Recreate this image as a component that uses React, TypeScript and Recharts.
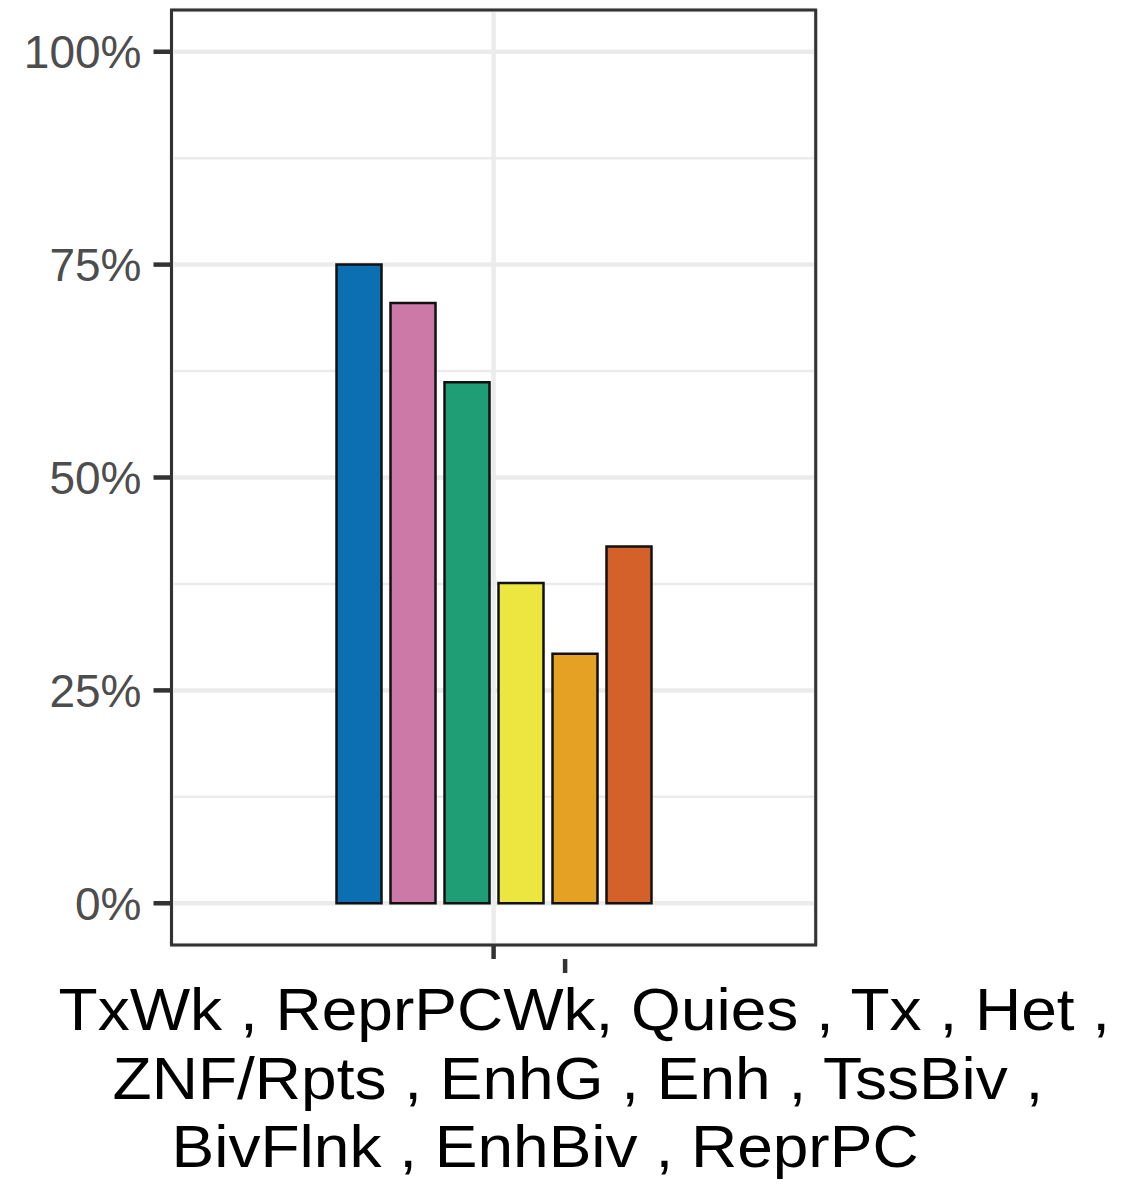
import React from 'react';
import { BarChart, Bar, XAxis, YAxis, CartesianGrid, ReferenceArea } from 'recharts';

const category = 'TxWk , ReprPCWk, Quies , Tx , Het , ZNF/Rpts , EnhG , Enh , TssBiv , BivFlnk , EnhBiv , ReprPC';
const xLabelLines = [
  'TxWk , ReprPCWk, Quies , Tx , Het ,',
  'ZNF/Rpts , EnhG , Enh , TssBiv ,',
  'BivFlnk , EnhBiv , ReprPC',
];
const seriesKeys = ['g1', 'g2', 'g3', 'g4', 'g5', 'g6'];
const seriesValues = [0.75, 0.705, 0.612, 0.376, 0.293, 0.419];
const seriesColors = ['#0B6FB1', '#CC79A7', '#1F9E75', '#EEE640', '#E5A124', '#D5612A'];
const yTicks = [0, 0.25, 0.5, 0.75, 1];
const yMinorTicks = [0.125, 0.375, 0.625, 0.875];
const yDomain: [number, number] = [-0.049, 1.049];

const row: Record<string, any> = { cat: category };
seriesKeys.forEach((k, i) => {
  row[k] = seriesValues[i];
});
const data = [row];

const lineOffsets = [-435, -381, -322];

const XTick = (props: any) => {
  const { x, y } = props;
  return (
    <g>
      <line x1={x} x2={x} y1={y} y2={y + 14} stroke="#333333" strokeWidth={4.5} />
      <line x1={x + 71.5} x2={x + 71.5} y1={y + 14} y2={y + 28} stroke="#333333" strokeWidth={4.5} />
      {xLabelLines.map((ln, i) => (
        <g key={i} transform={`translate(${x + lineOffsets[i]},${1030 + i * 68.5}) scale(1.067,1)`}>
          <text
            x={0}
            y={0}
            textAnchor="start"
            fontSize={60}
            fill="#000000"
            fontFamily="'Liberation Sans', Arial, sans-serif"
          >
            {ln}
          </text>
        </g>
      ))}
    </g>
  );
};

export default function App() {
  return (
    <div style={{ position: 'absolute', left: 0, top: 0, width: 1131, height: 1198, background: '#fff' }}>
      <BarChart
        width={1131}
        height={1198}
        data={data}
        margin={{ top: 10, right: 315.3, left: 0, bottom: 0 }}
        barSize={45}
        barGap={9}
        style={{ fontFamily: "'Liberation Sans', Arial, sans-serif" }}
      >
        <CartesianGrid stroke="#EBEBEB" strokeWidth={2.5} horizontalValues={yMinorTicks} vertical={false} />
        <CartesianGrid stroke="#EBEBEB" strokeWidth={4.5} />
        <XAxis
          dataKey="cat"
          type="category"
          height={253}
          axisLine={false}
          tickLine={false}
          tickSize={0}
          tickMargin={0}
          tick={<XTick />}
          interval={0}
        />
        <YAxis
          type="number"
          domain={yDomain}
          ticks={yTicks}
          allowDataOverflow
          width={171.5}
          axisLine={false}
          tickLine={{ stroke: '#333333', strokeWidth: 4.5 }}
          tickSize={18}
          tickMargin={12}
          tickFormatter={(v: number) => `${Math.round(v * 100)}%`}
          tick={{ fill: '#4D4D4D', fontSize: 46, fontFamily: "'Liberation Sans', Arial, sans-serif" }}
        />
        {seriesKeys.map((k, i) => (
          <Bar key={k} dataKey={k} fill={seriesColors[i]} stroke="#111111" strokeWidth={2.5} isAnimationActive={false} />
        ))}
        <ReferenceArea y1={yDomain[0]} y2={yDomain[1]} fill="none" stroke="#333333" strokeWidth={3} ifOverflow="visible" />
      </BarChart>
    </div>
  );
}
